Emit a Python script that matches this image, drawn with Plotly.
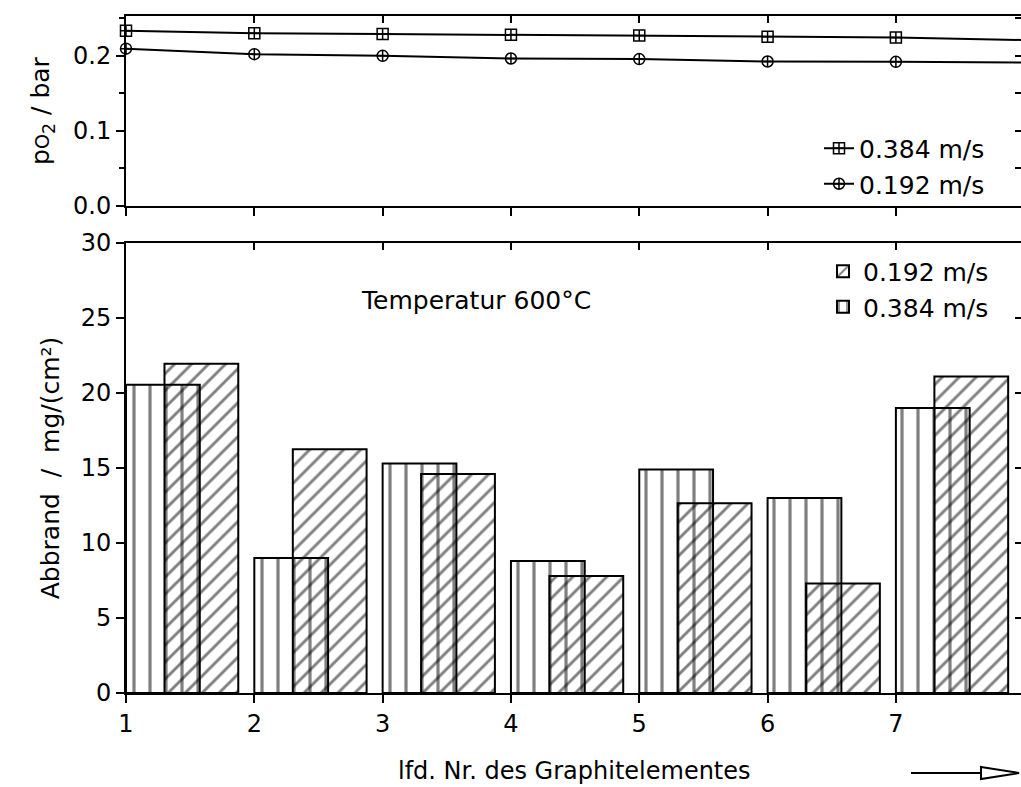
import plotly.graph_objects as go

# ---------------- data ----------------
elements = [1, 2, 3, 4, 5, 6, 7]
abbrand_0192 = [21.95, 16.25, 14.6, 7.8, 12.65, 7.3, 21.1]   # hatched bars
abbrand_0384 = [20.55, 9.0, 15.3, 8.8, 14.9, 13.0, 19.0]     # vertical-striped bars

o2_positions = [1, 2, 3, 4, 5, 6, 7, 8]
po2_0384 = [0.2335, 0.2300, 0.2290, 0.2280, 0.2270, 0.2253, 0.2244, 0.2210]
po2_0192 = [0.2095, 0.2022, 0.2000, 0.1964, 0.1956, 0.1924, 0.1920, 0.1910]

label_0384 = "0.384 m/s"
label_0192 = "0.192 m/s"
x_ticks_top = [1, 2, 3, 4, 5, 6, 7, 8]
x_ticks_bottom = [1, 2, 3, 4, 5, 6, 7]

# ---------------- geometry / style ----------------
W, H = 1021, 787
ML, MR, MT, MB = 126, 0, 16, 94
PH = H - MT - MB            # plot-area height in px
PW = W - ML - MR


def px_x(px):
    return (px - ML) / PW


def px_y(py):
    return (H - MB - py) / PH


top_dom = [px_y(206), 1.0]
bot_dom = [0.0, px_y(243)]
x_range = [1, 7.975]
FONT = "DejaVu Sans"
BLACK = "black"
CLEAR = "rgba(0,0,0,0)"

fig = go.Figure()

# bars (bottom panel)
fig.add_trace(go.Bar(
    x=elements, y=abbrand_0384, name=label_0384,
    xaxis="x2", yaxis="y2", legend="legend2", legendrank=2,
    offset=0.0, width=0.575,
    marker=dict(color=CLEAR, line=dict(color=BLACK, width=2),
                pattern=dict(shape="|", size=16, solidity=0.2,
                             fgcolor=BLACK, bgcolor=CLEAR)),
))
fig.add_trace(go.Bar(
    x=elements, y=abbrand_0192, name=label_0192,
    xaxis="x2", yaxis="y2", legend="legend2", legendrank=1,
    offset=0.3, width=0.575,
    marker=dict(color=CLEAR, line=dict(color=BLACK, width=2),
                pattern=dict(shape="/", size=12, solidity=0.24,
                             fgcolor=BLACK, bgcolor=CLEAR)),
))

# lines (top panel)
fig.add_trace(go.Scatter(
    x=o2_positions, y=po2_0384, name=label_0384, mode="lines+markers",
    xaxis="x", yaxis="y", legend="legend", legendrank=1, cliponaxis=False,
    line=dict(color=BLACK, width=2),
    marker=dict(symbol="square-cross-open", size=11, color=BLACK,
                line=dict(width=1.5, color=BLACK)),
))
fig.add_trace(go.Scatter(
    x=o2_positions, y=po2_0192, name=label_0192, mode="lines+markers",
    xaxis="x", yaxis="y", legend="legend", legendrank=2, cliponaxis=False,
    line=dict(color=BLACK, width=2),
    marker=dict(symbol="circle-cross-open", size=11, color=BLACK,
                line=dict(width=1.5, color=BLACK)),
))

# empty traces so the frame overlay axes are drawn
for xa, ya in (("x3", "y3"), ("x4", "y4")):
    fig.add_trace(go.Scatter(x=[], y=[], xaxis=xa, yaxis=ya,
                             showlegend=False, hoverinfo="skip"))

axis_common = dict(showgrid=False, zeroline=False, linecolor=BLACK,
                   linewidth=2, tickcolor=BLACK, tickwidth=2,
                   fixedrange=True, tickfont=dict(size=24, family=FONT,
                                                  color=BLACK))

fig.update_layout(
    width=W, height=H,
    margin=dict(l=ML, r=MR, t=MT, b=MB, pad=0),
    paper_bgcolor="white", plot_bgcolor="white",
    font=dict(family=FONT, size=24, color=BLACK),
    barmode="overlay",
    xaxis=dict(domain=[0, 1], anchor="y", range=x_range, tickmode="array",
               tickvals=x_ticks_top, showticklabels=False, showline=True,
               ticks="outside", ticklen=8, **axis_common),
    yaxis=dict(domain=top_dom, anchor="x", range=[0, 0.253],
               tickmode="linear", tick0=0, dtick=0.1, tickformat=".1f",
               showline=True, ticks="outside", ticklen=8,
               minor=dict(ticks="outside", ticklen=5, dtick=0.05, tick0=0,
                          tickwidth=1.5, tickcolor=BLACK),
               title=dict(text="p<span style='font-size:19px'>O</span>"
                               "<sub>2</sub>\u00a0/\u00a0bar",
                          standoff=16,
                          font=dict(size=25, family=FONT, color=BLACK)),
               **axis_common),
    xaxis2=dict(domain=[0, 1], anchor="y2", range=x_range, tickmode="array",
                tickvals=x_ticks_bottom, showline=True, ticks="outside",
                ticklen=8, **axis_common),
    yaxis2=dict(domain=bot_dom, anchor="x2", range=[0, 30],
                tickmode="linear", tick0=0, dtick=5, showline=True,
                ticks="outside", ticklen=8,
                title=dict(text="Abbrand\u00a0\u00a0/\u00a0\u00a0mg/(cm²)",
                           standoff=14,
                           font=dict(size=25, family=FONT, color=BLACK)),
                **axis_common),
    # frame pieces: top borders with inward ticks, right-hand inward ticks
    xaxis3=dict(overlaying="x", anchor="y3", side="top", range=x_range,
                tickmode="array", tickvals=x_ticks_top, showticklabels=False,
                showline=True, ticks="inside", ticklen=7, **axis_common),
    yaxis3=dict(overlaying="y", anchor="x3", side="right", range=[0, 0.253],
                tickmode="linear", tick0=0, dtick=0.05, showticklabels=False,
                showline=False, ticks="inside", ticklen=6, **axis_common),
    xaxis4=dict(overlaying="x2", anchor="y4", side="top", range=x_range,
                tickmode="array", tickvals=x_ticks_bottom,
                showticklabels=False, showline=True, ticks="inside",
                ticklen=7, **axis_common),
    yaxis4=dict(overlaying="y2", anchor="x4", side="right", range=[0, 30],
                tickmode="linear", tick0=0, dtick=5, showticklabels=False,
                showline=False, ticks="inside", ticklen=6, **axis_common),
    legend=dict(x=px_x(990), xanchor="right", y=px_y(166), yanchor="middle",
                bgcolor=CLEAR, borderwidth=0, tracegroupgap=0,
                font=dict(size=25, family=FONT, color=BLACK)),
    legend2=dict(x=px_x(994), xanchor="right", y=px_y(289), yanchor="middle",
                 bgcolor=CLEAR, borderwidth=0, tracegroupgap=0,
                 font=dict(size=25, family=FONT, color=BLACK)),
    showlegend=True,
)

fig.add_annotation(text="Temperatur 600°C", xref="x2", yref="y2",
                   x=3.73, y=26.2, showarrow=False,
                   font=dict(size=25, family=FONT, color=BLACK))
fig.add_annotation(text="lfd. Nr. des Graphitelementes", xref="paper",
                   yref="paper", x=px_x(574), y=px_y(771), showarrow=False,
                   xanchor="center", yanchor="middle",
                   font=dict(size=24, family=FONT, color=BLACK))

# decorative arrow to the right of the x-axis caption
fig.add_shape(type="line", xref="paper", yref="paper",
              x0=px_x(911), x1=px_x(981), y0=px_y(773), y1=px_y(773),
              line=dict(color=BLACK, width=2))
head = "M {a},{b} L {c},{d} L {a},{e} Z".format(
    a=px_x(981), b=px_y(767), c=px_x(1019), d=px_y(773), e=px_y(779))
fig.add_shape(type="path", xref="paper", yref="paper", path=head,
              line=dict(color=BLACK, width=2), fillcolor=CLEAR)

fig.write_html("out.html")
